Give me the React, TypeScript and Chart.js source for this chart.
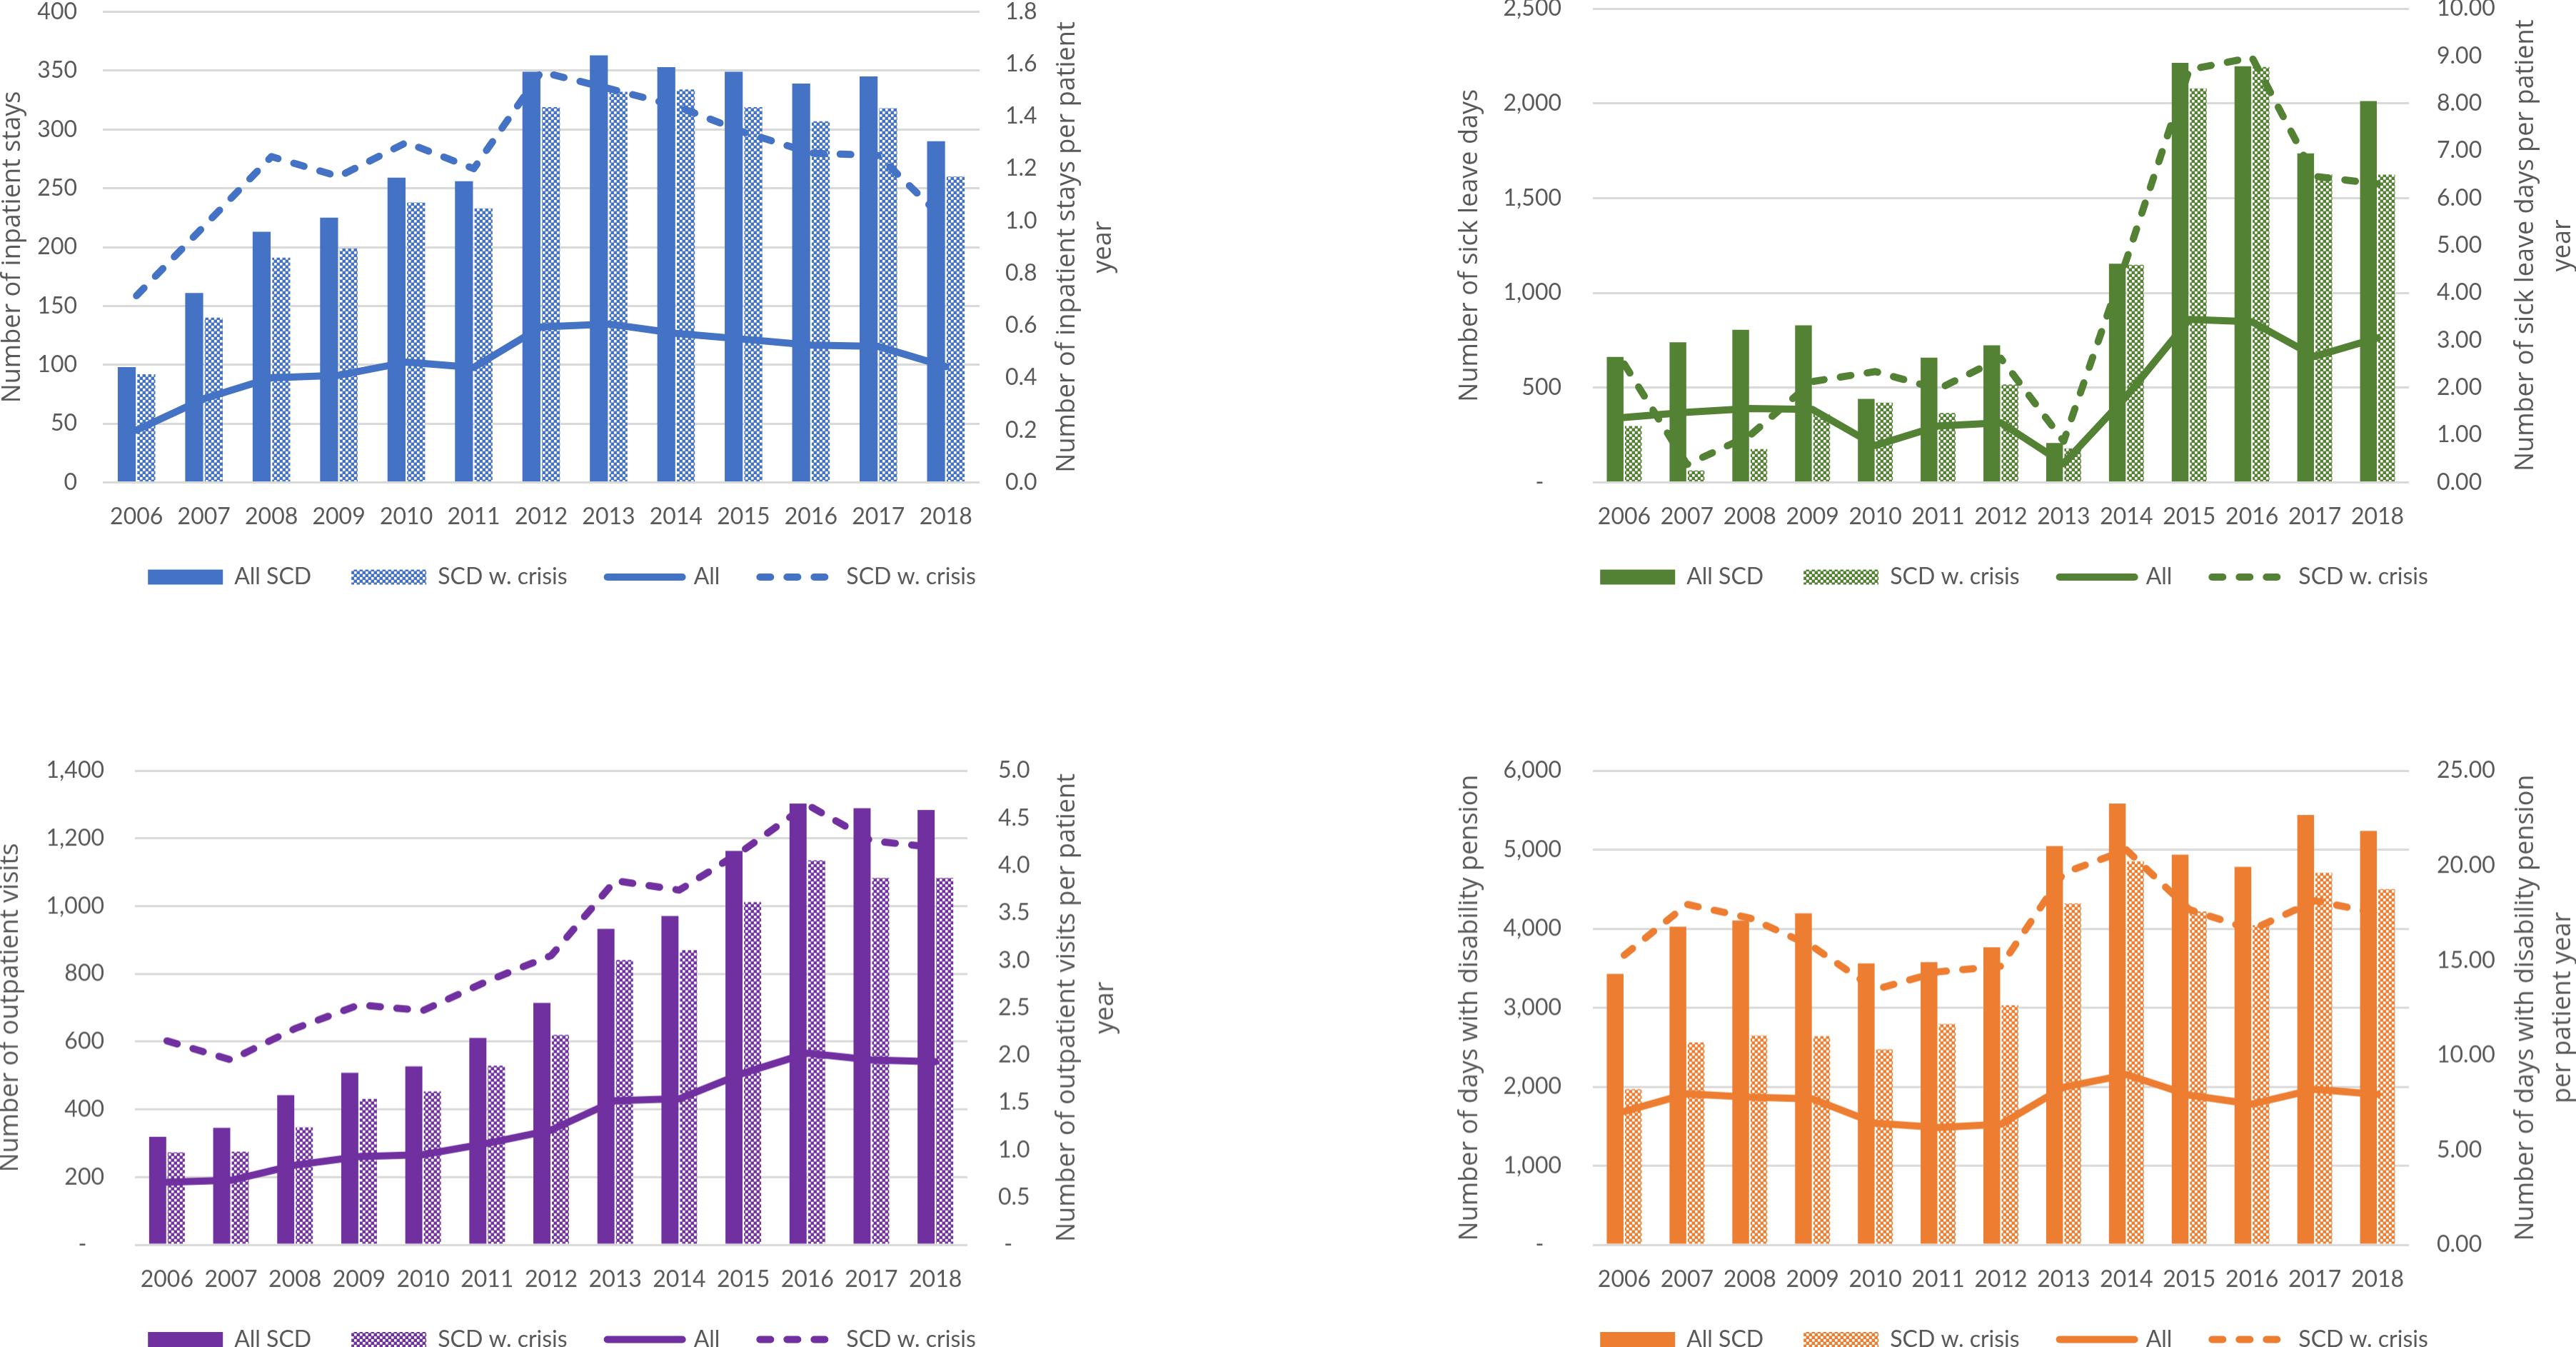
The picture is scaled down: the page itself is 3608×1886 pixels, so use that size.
import { useEffect, useRef } from "react";
import { Chart, registerables } from "chart.js";

Chart.register(...registerables);

const years = ["2006", "2007", "2008", "2009", "2010", "2011", "2012", "2013", "2014", "2015", "2016", "2017", "2018"];

// Inpatient stays
const inpatientAllSCD = [98, 161, 213, 225, 259, 256, 349, 363, 353, 349, 339, 345, 290];
const inpatientCrisis = [92, 140, 191, 199, 238, 233, 319, 332, 334, 319, 307, 318, 260];
const inpatientRateAll = [0.2, 0.32, 0.4, 0.41, 0.46, 0.44, 0.595, 0.606, 0.57, 0.548, 0.525, 0.52, 0.443];
const inpatientRateCrisis = [0.714, 0.98, 1.246, 1.17, 1.3, 1.2, 1.57, 1.507, 1.44, 1.34, 1.26, 1.25, 1.0];

// Sick leave days
const sickAllSCD = [662, 739, 805, 829, 441, 658, 723, 208, 1154, 2214, 2196, 1736, 2012];
const sickCrisis = [298, 63, 176, 359, 421, 366, 517, 180, 1148, 2079, 2192, 1626, 1624];
const sickRateAll = [1.37, 1.48, 1.56, 1.54, 0.78, 1.19, 1.26, 0.4, 1.82, 3.44, 3.39, 2.66, 3.05];
const sickRateCrisis = [2.5, 0.38, 0.99, 2.13, 2.34, 1.97, 2.62, 0.87, 4.7, 8.71, 8.97, 6.46, 6.3];

// Outpatient visits
const outAllSCD = [319, 345, 442, 508, 527, 611, 714, 933, 971, 1163, 1303, 1289, 1284];
const outCrisis = [273, 275, 347, 431, 453, 529, 620, 841, 870, 1012, 1135, 1083, 1083];
const outRateAll = [0.66, 0.68, 0.84, 0.93, 0.95, 1.07, 1.21, 1.52, 1.54, 1.81, 2.02, 1.95, 1.93];
const outRateCrisis = [2.15, 1.95, 2.28, 2.53, 2.47, 2.78, 3.05, 3.84, 3.74, 4.16, 4.64, 4.26, 4.19];

// Days with disability pension
const pensionAllSCD = [3427, 4026, 4105, 4194, 3561, 3576, 3764, 5045, 5584, 4936, 4782, 5440, 5237];
const pensionCrisis = [1968, 2562, 2646, 2641, 2473, 2794, 3032, 4318, 4852, 4219, 4046, 4708, 4500];
const pensionRateAll = [7.03, 7.96, 7.79, 7.69, 6.41, 6.18, 6.35, 8.31, 8.97, 7.89, 7.42, 8.2, 7.93];
const pensionRateCrisis = [15.27, 17.95, 17.23, 15.73, 13.46, 14.39, 14.69, 19.6, 20.82, 17.68, 16.61, 18.14, 17.48];

const legendLabels = ["All SCD", "SCD w. crisis", "All", "SCD w. crisis"];

const TEXT = "#595959";
const GRID = "#D9D9D9";
const CLEAR = "rgba(0,0,0,0)";
const TICK_FONT = "Lato";
const TITLE_FONT = "Open Sans";
const LINE_W = 10;

const plain = (v: number) => String(v);
const commaDash = (v: number) => (v === 0 ? "-\u00A0\u00A0\u00A0" : v.toLocaleString("en-US"));
const fixed1 = (v: number) => v.toFixed(1);
const fixed2 = (v: number) => v.toFixed(2);
const dash1 = (v: number) => (v === 0 ? "\u00A0-" : v.toFixed(1));

interface PanelProps {
  left: number;
  top: number;
  width: number;
  height: number;
  padTop: number;
  leftW: number;
  rightW: number;
  titleOff: number;
  leftPad: number;
  rightPad: number;
  rightTitleX: number[];
  color: string;
  bars: number[];
  barsCrisis: number[];
  rate: number[];
  rateCrisis: number[];
  yMax: number;
  yStep: number;
  y1Max: number;
  y1Step: number;
  yFmt: (v: number) => string;
  y1Fmt: (v: number) => string;
  yTitle: string;
  y1Title: string[];
}

function makePattern(color: string) {
  const c = document.createElement("canvas");
  c.width = 8;
  c.height = 8;
  const g = c.getContext("2d")!;
  g.fillStyle = color;
  g.fillRect(0, 0, 8, 8);
  g.fillStyle = "#ffffff";
  g.fillRect(0, 0, 3.5, 3.5);
  g.fillRect(4, 4, 3.5, 3.5);
  return g.createPattern(c, "repeat")!;
}

function Panel(p: PanelProps) {
  const chartRef = useRef<HTMLCanvasElement>(null);
  const chartInstance = useRef<Chart | null>(null);

  useEffect(() => {
    if (!chartRef.current) return;
    const ctx = chartRef.current.getContext("2d");
    if (!ctx) return;

    // right axis title reads bottom-to-top like the left one
    const rightTitle = {
      id: "rightTitle",
      afterDraw(chart: Chart) {
        const { ctx: c, chartArea } = chart;
        const cy = (chartArea.top + chartArea.bottom) / 2;
        c.save();
        c.fillStyle = TEXT;
        c.font = `36px "${TITLE_FONT}"`;
        c.textAlign = "center";
        c.textBaseline = "middle";
        p.y1Title.forEach((line, i) => {
          c.save();
          c.translate(chartArea.right + p.rightTitleX[i], cy);
          c.rotate(-Math.PI / 2);
          c.fillText(line, 0, 0);
          c.restore();
        });
        c.restore();
      },
    };

    const barOpts = { categoryPercentage: 0.58, barPercentage: 0.92, yAxisID: "y", order: 2 };
    const lineOpts = {
      borderColor: p.color,
      backgroundColor: p.color,
      borderWidth: LINE_W,
      pointRadius: 0,
      tension: 0,
      yAxisID: "y1",
      borderCapStyle: "round" as const,
      borderJoinStyle: "round" as const,
    };

    chartInstance.current = new Chart(ctx, {
      type: "bar",
      data: {
        labels: years,
        datasets: [
          { type: "bar", label: legendLabels[0], data: p.bars, backgroundColor: p.color, ...barOpts },
          { type: "bar", label: legendLabels[1], data: p.barsCrisis, backgroundColor: makePattern(p.color), ...barOpts },
          { type: "line", label: legendLabels[2], data: p.rate, ...lineOpts, order: 1 },
          { type: "line", label: legendLabels[3], data: p.rateCrisis, ...lineOpts, borderDash: [15, 23], order: 0 },
        ] as any,
      },
      options: {
        animation: false,
        responsive: true,
        maintainAspectRatio: false,
        layout: { padding: { top: p.padTop, left: 0, right: 0, bottom: 0 } },
        plugins: {
          tooltip: { enabled: false },
          legend: {
            position: "bottom",
            labels: {
              usePointStyle: true,
              pointStyleWidth: 105,
              boxHeight: 21,
              padding: 56,
              color: TEXT,
              font: { family: TICK_FONT, size: 32 },
              generateLabels: (chart: Chart) =>
                chart.data.datasets.map((ds: any, i: number) => ({
                  text: ds.label,
                  fillStyle: ds.type === "line" ? CLEAR : ds.backgroundColor,
                  strokeStyle: p.color,
                  lineWidth: ds.type === "line" ? LINE_W : 0,
                  lineDash: ds.borderDash || [],
                  lineCap: "round",
                  pointStyle: ds.type === "line" ? "line" : "rect",
                  hidden: false,
                  datasetIndex: i,
                  fontColor: TEXT,
                })),
            },
          },
        },
        scales: {
          x: {
            grid: { display: false, drawTicks: false },
            border: { display: false },
            ticks: {
              color: TEXT,
              font: { family: TICK_FONT, size: 32, lineHeight: 1 },
              padding: 32.5,
              autoSkip: false,
              maxRotation: 0,
            },
            afterFit: (s: any) => {
              s.height = 60.5;
            },
          },
          y: {
            position: "left",
            min: 0,
            max: p.yMax,
            grid: { color: GRID, lineWidth: 3, drawTicks: true, tickLength: p.leftPad, tickColor: CLEAR },
            border: { display: false },
            ticks: {
              stepSize: p.yStep,
              color: TEXT,
              font: { family: TICK_FONT, size: 32, lineHeight: 0.7 },
              padding: 0,
              callback: (v: any) => p.yFmt(Number(v)),
            },
            title: {
              display: true,
              text: p.yTitle,
              color: TEXT,
              font: { family: TITLE_FONT, size: 36, lineHeight: (2 * p.titleOff) / 36 },
              padding: 0,
            },
            afterFit: (s: any) => {
              s.width = p.leftW;
            },
          },
          y1: {
            position: "right",
            min: 0,
            max: p.y1Max,
            grid: { display: true, color: CLEAR, drawOnChartArea: false, drawTicks: true, tickLength: p.rightPad, tickColor: CLEAR },
            border: { display: false },
            ticks: {
              stepSize: p.y1Step,
              color: TEXT,
              font: { family: TICK_FONT, size: 32, lineHeight: 0.7 },
              padding: 0,
              callback: (v: any) => p.y1Fmt(Number(v)),
            },
            afterFit: (s: any) => {
              s.width = p.rightW;
            },
          },
        },
      } as any,
      plugins: [rightTitle],
    });

    return () => {
      if (chartInstance.current) {
        chartInstance.current.destroy();
        chartInstance.current = null;
      }
    };
  }, []);

  return (
    <div style={{ position: "absolute", left: p.left, top: p.top, width: p.width, height: p.height }}>
      <canvas ref={chartRef} />
    </div>
  );
}

export default function App() {
  return (
    <div
      style={{
        position: "fixed",
        left: 0,
        top: 0,
        width: 3608,
        height: 1886,
        overflow: "hidden",
        background: "#ffffff",
      }}
    >
      <Panel
        left={0} top={0} width={1574} height={834} padTop={16.5}
        leftW={144} rightW={202} titleOff={18} leftPad={36} rightPad={36} rightTitleX={[123, 174]}
        color="#4472C4"
        bars={inpatientAllSCD} barsCrisis={inpatientCrisis} rate={inpatientRateAll} rateCrisis={inpatientRateCrisis}
        yMax={400} yStep={50} y1Max={1.8} y1Step={0.2} yFmt={plain} y1Fmt={fixed1}
        yTitle="Number of inpatient stays"
        y1Title={["Number of inpatient stays per patient", "year"]}
      />
      <Panel
        left={2034} top={0} width={1574} height={834} padTop={12}
        leftW={197} rightW={234} titleOff={25} leftPad={44} rightPad={39} rightTitleX={[164, 216]}
        color="#548235"
        bars={sickAllSCD} barsCrisis={sickCrisis} rate={sickRateAll} rateCrisis={sickRateCrisis}
        yMax={2500} yStep={500} y1Max={10} y1Step={1} yFmt={commaDash} y1Fmt={fixed2}
        yTitle="Number of sick leave days"
        y1Title={["Number of sick leave days per patient", "year"]}
      />
      <Panel
        left={0} top={1050} width={1574} height={850.5} padTop={29}
        leftW={189} rightW={219} titleOff={15} leftPad={43} rightPad={43} rightTitleX={[140, 194]}
        color="#7030A0"
        bars={outAllSCD} barsCrisis={outCrisis} rate={outRateAll} rateCrisis={outRateCrisis}
        yMax={1400} yStep={200} y1Max={5} y1Step={0.5} yFmt={commaDash} y1Fmt={dash1}
        yTitle="Number of outpatient visits"
        y1Title={["Number of outpatient visits per patient", "year"]}
      />
      <Panel
        left={2034} top={1050} width={1574} height={850.5} padTop={29}
        leftW={197} rightW={234} titleOff={25} leftPad={44} rightPad={39} rightTitleX={[164, 216]}
        color="#ED7D31"
        bars={pensionAllSCD} barsCrisis={pensionCrisis} rate={pensionRateAll} rateCrisis={pensionRateCrisis}
        yMax={6000} yStep={1000} y1Max={25} y1Step={5} yFmt={commaDash} y1Fmt={fixed2}
        yTitle="Number of days with disability pension"
        y1Title={["Number of days with disability pension", "per patient year"]}
      />
    </div>
  );
}
